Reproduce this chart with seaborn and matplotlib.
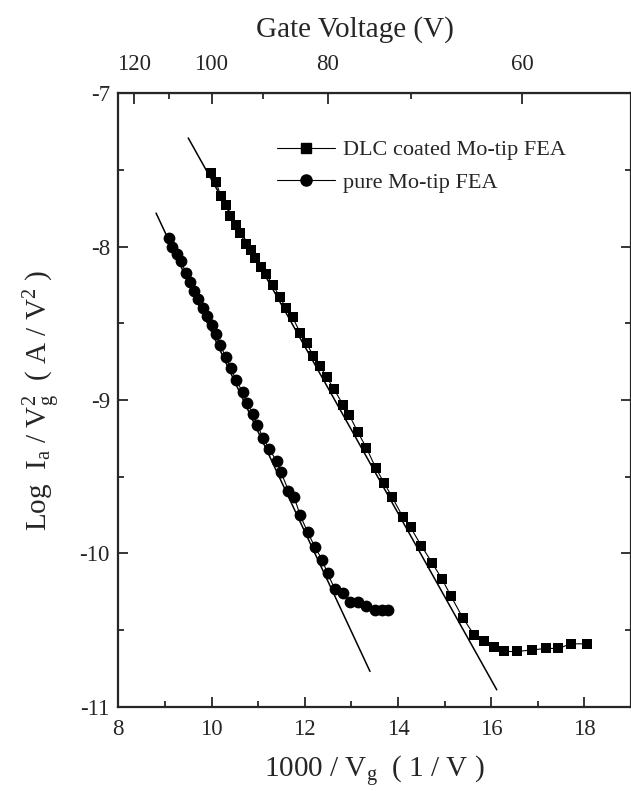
import numpy as np
import pandas as pd
import matplotlib
matplotlib.use("Agg")
import matplotlib.pyplot as plt
from matplotlib.lines import Line2D
from matplotlib.ticker import FixedLocator, MultipleLocator
import seaborn as sns

# DLC coated Mo-tip FEA (1000/Vg, log Ia/Vg^2)
dlc_x = [9.99, 10.10, 10.20, 10.31, 10.40, 10.53, 10.61, 10.73, 10.84, 10.93,
         11.06, 11.17, 11.32, 11.47, 11.60, 11.74, 11.90, 12.04, 12.18, 12.33,
         12.47, 12.63, 12.82, 12.96, 13.14, 13.32, 13.52, 13.70, 13.87, 14.10,
         14.27, 14.50, 14.73, 14.95, 15.14, 15.39, 15.63, 15.85, 16.07, 16.28,
         16.56, 16.87, 17.18, 17.44, 17.71, 18.05]
dlc_y = [-7.52, -7.58, -7.67, -7.73, -7.80, -7.86, -7.91, -7.98, -8.02, -8.07,
         -8.13, -8.18, -8.25, -8.33, -8.40, -8.46, -8.56, -8.63, -8.71, -8.78,
         -8.85, -8.93, -9.03, -9.10, -9.21, -9.31, -9.44, -9.54, -9.63, -9.76,
         -9.83, -9.95, -10.06, -10.17, -10.28, -10.42, -10.53, -10.57, -10.61, -10.64,
         -10.64, -10.63, -10.62, -10.62, -10.59, -10.59]

# pure Mo-tip FEA
pure_x = [9.09, 9.16, 9.26, 9.34, 9.45, 9.53, 9.62, 9.72, 9.81, 9.90,
          10.01, 10.09, 10.18, 10.31, 10.41, 10.53, 10.67, 10.77, 10.88, 10.98,
          11.11, 11.24, 11.40, 11.49, 11.65, 11.77, 11.90, 12.06, 12.22, 12.37,
          12.49, 12.64, 12.82, 12.97, 13.15, 13.32, 13.51, 13.65, 13.79]
pure_y = [-7.94, -8.00, -8.05, -8.09, -8.17, -8.23, -8.29, -8.34, -8.40, -8.45,
          -8.51, -8.57, -8.64, -8.72, -8.79, -8.87, -8.95, -9.02, -9.09, -9.16,
          -9.25, -9.32, -9.40, -9.47, -9.59, -9.63, -9.75, -9.86, -9.96, -10.04,
          -10.13, -10.23, -10.26, -10.32, -10.32, -10.34, -10.37, -10.37, -10.37]

# straight-line fits (end points)
fit_dlc_x = [9.50, 16.12]
fit_dlc_y = [-7.29, -10.89]
fit_pure_x = [8.81, 13.40]
fit_pure_y = [-7.78, -10.77]

gate_major = [120, 100, 80, 60]
gate_minor = [110, 90, 70]

sns.set_style("ticks")
plt.rcParams["font.family"] = ["Liberation Serif", "DejaVu Serif"]
plt.rcParams["mathtext.fontset"] = "custom"
plt.rcParams["mathtext.rm"] = "Liberation Serif"
plt.rcParams["mathtext.it"] = "Liberation Serif"
plt.rcParams["axes.unicode_minus"] = False

fig = plt.figure(figsize=(6.31, 7.91), dpi=100)
ax = fig.add_axes([0.1875, 0.1066, 0.8125, 0.7752])

dlc = pd.DataFrame({"x": dlc_x, "y": dlc_y})
pure = pd.DataFrame({"x": pure_x, "y": pure_y})

sns.lineplot(data=dlc, x="x", y="y", sort=False, ax=ax, color="black",
             marker="s", markersize=7.8, markeredgewidth=0, linewidth=0.8)
sns.lineplot(data=pure, x="x", y="y", sort=False, ax=ax, color="black",
             marker="o", markersize=8.5, markeredgewidth=0, linewidth=0.8)
sns.lineplot(x=fit_dlc_x, y=fit_dlc_y, ax=ax, color="black", linewidth=1.1)
sns.lineplot(x=fit_pure_x, y=fit_pure_y, ax=ax, color="black", linewidth=1.1)

ax.set_xlim(8, 19)
ax.set_ylim(-11, -7)
ax.xaxis.set_major_locator(MultipleLocator(2))
ax.xaxis.set_minor_locator(MultipleLocator(1))
ax.yaxis.set_major_locator(MultipleLocator(1))
ax.yaxis.set_minor_locator(MultipleLocator(0.5))
ax.tick_params(which="both", direction="in", width=1.3, labelsize=16.5,
               right=True, top=False)
ax.tick_params(which="major", length=7)
ax.tick_params(which="minor", length=4)
ax.tick_params(axis="x", pad=9)
ax.tick_params(axis="y", pad=6)
for s in ax.spines.values():
    s.set_linewidth(1.6)

top = ax.secondary_xaxis("top", functions=(lambda v: 1000 / v, lambda v: 1000 / v))
top.xaxis.set_major_locator(FixedLocator(gate_major))
top.xaxis.set_minor_locator(FixedLocator(gate_minor))
top.tick_params(which="both", direction="in", width=1.3, labelsize=16.5, pad=13)
top.tick_params(which="major", length=8)
top.tick_params(which="minor", length=4)
fig.text(0.563, 0.963, "Gate Voltage (V)", fontsize=21, ha="center", va="center")

ax.set_xlabel(r"1000 / V$_{\rm g}$  ( 1 / V )", fontsize=21, labelpad=10)
ax.set_ylabel(r"Log  I$_{\rm a}$ / V$_{\rm g}^{\rm 2}$  ( A / V$^{\rm 2}$ )",
              fontsize=21, labelpad=12)

handles = [
    Line2D([], [], color="black", marker="s", markersize=7, linewidth=0.8),
    Line2D([], [], color="black", marker="o", markersize=8, linewidth=0.8),
]
ax.legend(handles, ["DLC coated Mo-tip FEA", "pure Mo-tip FEA"], loc="upper left",
          bbox_to_anchor=(0.271, 0.957), frameon=False, fontsize=16,
          handlelength=2.6, handletextpad=0.35, labelspacing=0.55)

fig.savefig("out.png", dpi=100)
